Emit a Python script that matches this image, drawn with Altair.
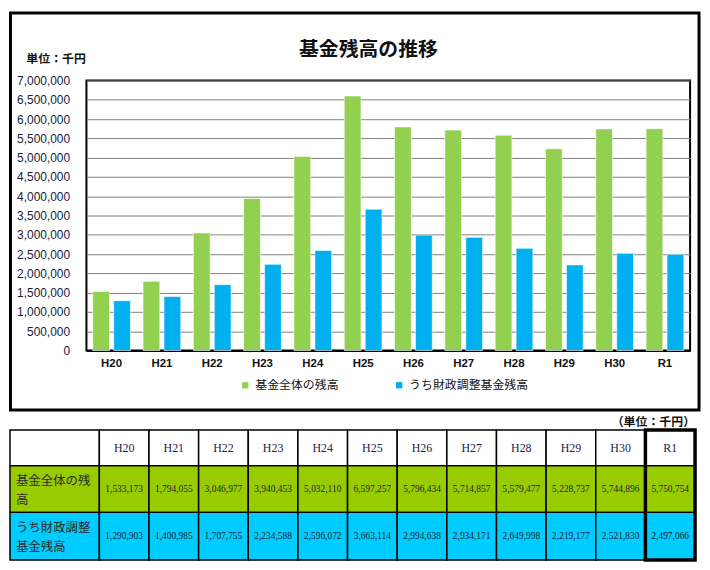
import altair as alt
import pandas as pd

years = ["H20", "H21", "H22", "H23", "H24", "H25", "H26", "H27", "H28", "H29", "H30", "R1"]
fund_total = [1533173, 1794055, 3046977, 3940453, 5032110, 6597257, 5796434, 5714857, 5579477, 5228737, 5744896, 5750754]
fiscal_adj = [1290903, 1400985, 1707755, 2234588, 2596072, 3663114, 2994638, 2934171, 2649998, 2219177, 2521830, 2497066]
series_names = ["基金全体の残高", "うち財政調整基金残高"]
row_labels = ["基金全体の残\n高", "うち財政調整\n基金残高"]
chart_title = "基金残高の推移"
unit_label = "単位：千円"
table_unit_label = "（単位：千円）"

JP = "Noto Sans CJK JP"
SERIF = "Liberation Serif, Noto Sans CJK JP"

# ---------- bar chart ----------
bar_rows = []
for i, y in enumerate(years):
    bar_rows.append({"year": y, "series": series_names[0], "value": fund_total[i]})
    bar_rows.append({"year": y, "series": series_names[1], "value": fiscal_adj[i]})
bar_df = pd.DataFrame(bar_rows)

bars = alt.Chart(bar_df).mark_bar(stroke="white", strokeWidth=1, strokeOpacity=0.6).encode(
    x=alt.X("year:N", sort=years,
            scale=alt.Scale(paddingInner=0.25, paddingOuter=0.125),
            axis=alt.Axis(title=None, labelAngle=0, labelFont="Liberation Sans", labelFontWeight="bold",
                          labelFontSize=11.5, labelColor="#111111", labelPadding=7, ticks=False,
                          domainColor="black", domainWidth=2, grid=False)),
    xOffset=alt.XOffset("series:N", sort=series_names, scale=alt.Scale(paddingInner=0.2)),
    y=alt.Y("value:Q", scale=alt.Scale(domain=[0, 7000000]),
            axis=alt.Axis(tickCount=14, format=",d", title=unit_label, titleAngle=0,
                          titleX=-61, titleY=-22, titleAlign="left", titleBaseline="middle",
                          titleFont=JP, titleFontSize=12, titleFontWeight="bold", titleColor="#111111",
                          labelFont="Liberation Sans", labelFontSize=12, labelColor="#1a1a3a",
                          labelPadding=17, ticks=False, domain=False,
                          gridColor="#808080", gridWidth=1)),
    color=alt.Color("series:N", sort=series_names,
                    scale=alt.Scale(domain=series_names, range=["#92D050", "#00B0F0"]),
                    legend=alt.Legend(title=None, orient="none", legendX=154, legendY=301,
                                      direction="horizontal", symbolType="square", symbolSize=40,
                                      symbolStrokeWidth=0, labelFont=JP, labelFontSize=12,
                                      labelColor="#111111", labelOffset=4, columnPadding=54)),
)

title_df = pd.DataFrame({"t": [chart_title]})
frame = alt.Chart(title_df).mark_rect(fillOpacity=0, stroke="black", strokeWidth=3).encode(
    x=alt.value(-76.5), x2=alt.value(617), y=alt.value(-68), y2=alt.value(332)
)
title_text = alt.Chart(title_df).mark_text(font=JP, fontSize=20, fontWeight="bold", color="#111111",
                                           align="center", baseline="middle").encode(
    x=alt.value(284), y=alt.value(-31), text="t:N"
)

top = alt.layer(frame, bars, title_text).properties(
    width=608, height=272,
    view=alt.ViewBackground(stroke="black", strokeWidth=2),
)

# ---------- table ----------
cells = [{"r": 0, "c": 0, "text": "", "kind": "blank", "row": "header"}]
for j, y in enumerate(years):
    cells.append({"r": 0, "c": j + 1, "text": y, "kind": "head", "row": "header"})
for k, (lab, vals, key) in enumerate([(row_labels[0], fund_total, "total"), (row_labels[1], fiscal_adj, "fiscal")]):
    cells.append({"r": k + 1, "c": 0, "text": lab, "kind": "label", "row": key})
    for j, v in enumerate(vals):
        cells.append({"r": k + 1, "c": j + 1, "text": f"{v:,}", "kind": "value", "row": key})
cell_df = pd.DataFrame(cells)

xs = alt.Scale(domain=[0, 1, len(years) + 1], range=[-77, 13, 613])
ys = alt.Scale(domain=[0, 1, 2, 3], range=[0, 36, 83, 131])

base = alt.Chart(cell_df).transform_calculate(
    c2="datum.c + 1", r2="datum.r + 1", cm="datum.c + 0.5", rm="datum.r + 0.5"
)
cell_rects = base.mark_rect(stroke="black", strokeWidth=1.5).encode(
    x=alt.X("c:Q", scale=xs, axis=None), x2="c2:Q",
    y=alt.Y("r:Q", scale=ys, axis=None), y2="r2:Q",
    fill=alt.Fill("row:N", scale=alt.Scale(domain=["header", "total", "fiscal"],
                                           range=["#ffffff", "#99CC00", "#00CCFF"]), legend=None),
)
head_text = base.transform_filter("datum.kind == 'head'").mark_text(
    font=SERIF, fontSize=12, color="#22224a", align="center", baseline="middle").encode(
    x=alt.X("cm:Q", scale=xs), y=alt.Y("rm:Q", scale=ys), text="text:N")
value_text = base.transform_filter("datum.kind == 'value'").mark_text(
    font=SERIF, fontSize=9.5, color="#1e1e30", align="center", baseline="middle").encode(
    x=alt.X("cm:Q", scale=xs), y=alt.Y("rm:Q", scale=ys), text="text:N")
label_text = base.transform_filter("datum.kind == 'label'").mark_text(
    font=SERIF, fontSize=12.5, color="#2a2a2a", align="left", baseline="middle",
    lineBreak="\n", lineHeight=19, dx=6, dy=-8).encode(
    x=alt.X("c:Q", scale=xs), y=alt.Y("rm:Q", scale=ys), text="text:N")

hl_df = pd.DataFrame({"c": [len(years)], "r": [0], "t": [table_unit_label]})
highlight = alt.Chart(hl_df).transform_calculate(c2="datum.c + 1", r2="datum.r + 3").mark_rect(
    fillOpacity=0, stroke="black", strokeWidth=3.5).encode(
    x=alt.X("c:Q", scale=xs), x2="c2:Q", y=alt.Y("r:Q", scale=ys), y2="r2:Q")
unit_text = alt.Chart(hl_df).transform_calculate(c2="datum.c + 1").mark_text(
    font=JP, fontSize=12, fontWeight="bold", color="#111111", align="right", baseline="middle").encode(
    x=alt.X("c2:Q", scale=xs), y=alt.value(-8), text="t:N")

table = alt.layer(cell_rects, head_text, value_text, label_text, highlight, unit_text).properties(
    width=613, height=131,
)

chart = alt.vconcat(top, table, spacing=2).resolve_scale(
    color="independent", fill="independent"
).properties(padding={"left": 0, "top": 0, "right": 0, "bottom": 0}).configure_view(
    strokeWidth=0).configure(background="white")

chart.save("out.html", embed_options={"renderer": "svg", "actions": False})
